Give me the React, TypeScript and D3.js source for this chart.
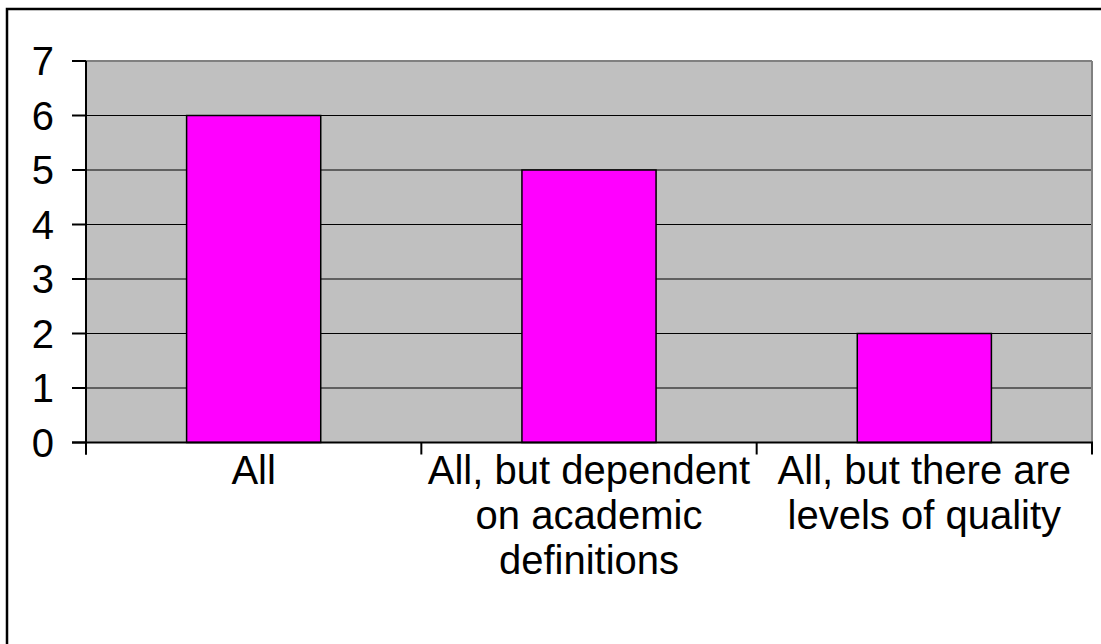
import React from "react";
import * as d3 from "d3";

const categories: string[][] = [
  ["All"],
  ["All, but dependent", "on academic", "definitions"],
  ["All, but there are", "levels of quality"],
];
const values: number[] = [6, 5, 2];
const yTicks: number[] = [0, 1, 2, 3, 4, 5, 6, 7];

const W = 1101;
const H = 644;
const left = 86;
const right = 1092;
const top = 61;
const bottom = 442.5;
const font = "Arial, 'Liberation Sans', sans-serif";

export default function App() {
  const x = d3
    .scaleBand<number>()
    .domain(values.map((_, i) => i))
    .range([left, right])
    .paddingInner(0)
    .paddingOuter(0);
  const y = d3.scaleLinear().domain([0, 7]).range([bottom, top]);
  const bw = x.bandwidth() * 0.4;
  const boundaries = [...values.map((_, i) => x(i)!), right];

  return (
    <svg
      width={W}
      height={H}
      style={{ position: "absolute", left: 0, top: 0, display: "block" }}
    >
      <rect x={0} y={0} width={W} height={H} fill="#fff" />
      <rect x={7} y={9} width={W + 20} height={H + 20} fill="none" stroke="#000" strokeWidth={2.5} />
      <rect x={left} y={top} width={right - left} height={bottom - top} fill="#C0C0C0" />
      {yTicks.slice(1, -1).map((t) => (
        <line key={t} x1={left} x2={right} y1={y(t)} y2={y(t)} stroke="#000" strokeWidth={1} />
      ))}
      <line x1={left} x2={right} y1={y(7)} y2={y(7)} stroke="#808080" strokeWidth={2} />
      <line x1={right} x2={right} y1={top} y2={bottom} stroke="#808080" strokeWidth={2} />
      {values.map((v, i) => (
        <rect
          key={i}
          x={x(i)! + (x.bandwidth() - bw) / 2}
          y={y(v)}
          width={bw}
          height={y(0) - y(v)}
          fill="#FF00FF"
          stroke="#000"
          strokeWidth={1.5}
        />
      ))}
      <line x1={left} x2={left} y1={top} y2={bottom + 12} stroke="#000" strokeWidth={2} />
      <line x1={left - 14} x2={right + 1} y1={bottom} y2={bottom} stroke="#000" strokeWidth={2} />
      {yTicks.map((t) => (
        <g key={t}>
          <line x1={left - 14} x2={left} y1={y(t)} y2={y(t)} stroke="#000" strokeWidth={2} />
          <text
            x={54}
            y={y(t)}
            dy="0.36em"
            textAnchor="end"
            fontFamily={font}
            fontSize={40}
            fill="#000"
          >
            {t}
          </text>
        </g>
      ))}
      {boundaries.map((b, i) => (
        <line key={i} x1={b} x2={b} y1={bottom} y2={bottom + 12} stroke="#000" strokeWidth={2} />
      ))}
      {categories.map((lines, i) => (
        <text
          key={i}
          x={x(i)! + x.bandwidth() / 2}
          y={484}
          textAnchor="middle"
          fontFamily={font}
          fontSize={40}
          fill="#000"
        >
          {lines.map((l, j) => (
            <tspan key={j} x={x(i)! + x.bandwidth() / 2} dy={j === 0 ? 0 : 45}>
              {l}
            </tspan>
          ))}
        </text>
      ))}
    </svg>
  );
}
